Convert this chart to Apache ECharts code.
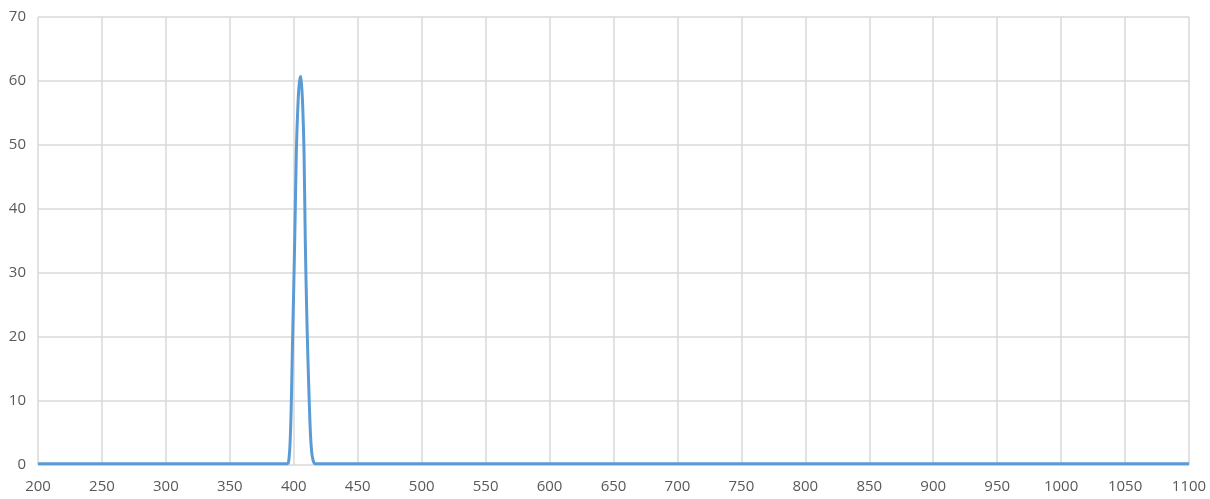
<!DOCTYPE html>
<html>
<head>
<meta charset="utf-8">
<script src="https://cdn.jsdelivr.net/npm/echarts@6/dist/echarts.min.js"></script>
<style>
  html, body { margin: 0; padding: 0; background: #fff; }
  #chart { width: 1210px; height: 499px; }
</style>
</head>
<body>
<div id="chart"></div>
<script>
// wavelength (nm) and transmission (%)
var wavelengths = [200, 395, 396, 397, 398, 399, 400, 401, 402, 403, 404, 405, 405.8,
                   406, 407, 408, 409, 410, 411, 412, 413, 414, 415, 416, 417, 1100];
var transmission = [0.2, 0.2, 0.6, 3, 9, 19, 28, 38, 49, 55, 59, 60.5, 60.7,
                    60.6, 56, 49, 35, 25, 17, 10.5, 5, 2, 0.8, 0.3, 0.2, 0.2];
var xTicks = { min: 200, max: 1100, step: 50 };
var yTicks = { min: 0, max: 70, step: 10 };

var points = wavelengths.map(function (w, i) { return [w, transmission[i]]; });

var chart = echarts.init(document.getElementById('chart'));
var labelStyle = { color: '#595959', fontSize: 15, fontFamily: 'Open Sans' };

chart.setOption({
    animation: false,
    grid: { left: 38, right: 21, top: 17, bottom: 34 },
    xAxis: {
        type: 'value',
        min: xTicks.min, max: xTicks.max, interval: xTicks.step,
        axisLine: { show: false },
        axisTick: { show: false },
        axisLabel: Object.assign({
            margin: 14,
            formatter: function (v) { return String(v); }
        }, labelStyle),
        splitLine: { show: true, lineStyle: { color: '#d9d9d9', width: 1.5 } }
    },
    yAxis: {
        type: 'value',
        min: yTicks.min, max: yTicks.max, interval: yTicks.step,
        axisLine: { show: false },
        axisTick: { show: false },
        axisLabel: Object.assign({ margin: 12 }, labelStyle),
        splitLine: { show: true, lineStyle: { color: '#d9d9d9', width: 1.5 } }
    },
    series: [{
        type: 'line',
        data: points,
        smooth: 0.3,
        showSymbol: false,
        lineStyle: { color: '#5b9bd5', width: 3 }
    }]
});
</script>
</body>
</html>
